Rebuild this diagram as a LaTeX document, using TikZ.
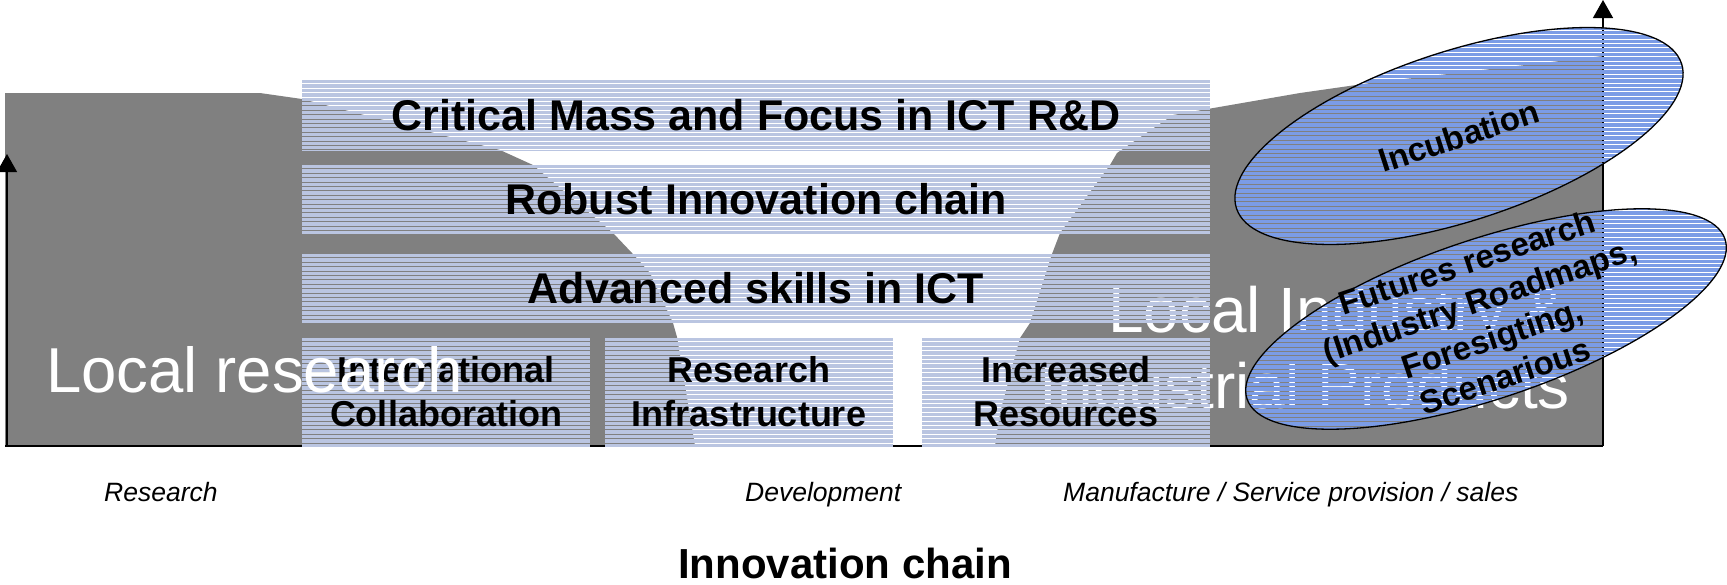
\documentclass[tikz,border=0pt]{standalone}
\usepackage{fontspec}
\setmainfont{Liberation Sans}
\usetikzlibrary{arrows.meta,shapes.geometric}
\definecolor{bggray}{HTML}{808080}
\definecolor{bandblue}{HTML}{BAC5E1}
\definecolor{ellblue}{HTML}{7B9CE6}
\newcommand\ellstripes[5]{%
\begin{scope}
\clip[rotate around={#5:(#1,#2)}] (#1,#2) ellipse [x radius=#3, y radius=#4];
\foreach \k in {0,...,105}{\fill[ellblue] (1150,{\k*4.4}) rectangle (1727,{\k*4.4+3.3});}
\end{scope}}
\tikzset{
  hatchbox/.style={inner sep=0pt, outer sep=0pt, path picture={
    \foreach \k in {0,...,30}{
      \pgfmathsetmacro\ya{-\k*4.4}
      \pgfmathsetmacro\yb{-\k*4.4-3.3}
      \fill[bandblue] ([yshift=\ya pt]path picture bounding box.north west) rectangle ([yshift=\yb pt]path picture bounding box.north east);
    }}},
  bandtext/.style={font=\fontsize{43}{50}\selectfont\bfseries},
  boxtext/.style={font=\fontsize{36}{44}\selectfont\bfseries, align=center},
  bigwhite/.style={text=white, inner sep=0pt},
  axisarrow/.style={line width=1.3pt, -{Triangle[length=18pt,width=20pt]}},
  axisline/.style={line width=1.3pt},
  ellout/.style={draw=black, line width=1.3pt, ellipse, inner sep=0pt},
  elltext/.style={font=\fontsize{33}{40}\selectfont\bfseries, align=center, inner sep=0pt},
  steplabel/.style={anchor=base west, inner sep=0pt, font=\fontsize{26.5}{32}\selectfont\itshape}
}
\begin{document}
\begin{tikzpicture}[x=1pt,y=-1pt]
\useasboundingbox (0,0) rectangle (1727,584);
% gray background with white funnel
\fill[bggray] (5,93) -- (260,93) -- (302,99) -- (500,150) -- (533,165) -- (613,233) -- (632,253)
  -- (650,273) -- (673,323) -- (677,337) -- (695,446) -- (995,446) -- (1000,413) -- (1020,338)
  -- (1030,323) -- (1052,254) -- (1060,233) -- (1110,165) -- (1117,153) -- (1173,115)
  -- (1300,93) -- (1370,83) -- (1603,56) -- (1603,446) -- (5,446) -- cycle;
% axes
\coordinate (ax0) at (5,446);
\coordinate (ax1) at (1603,446);
\coordinate (la0) at (7,446);
\coordinate (la1) at (7,154);
\coordinate (ra0) at (1603,446);
\coordinate (ra1) at (1603,0);
\draw[axisline] (ax0) -- (ax1);
\draw[axisarrow] (la0) -- (la1);
\draw[axisarrow] (ra0) -- (ra1);
% white text behind bands
\node[bigwhite, anchor=base west, font=\fontsize{64}{76}\selectfont] (li1) at (1108,332) {Local Industry \&};
\node[bigwhite, anchor=base, font=\fontsize{64}{76}\selectfont] (li2) at (1305,408) {Industrial Products};
% bands
\node[hatchbox, minimum width=908pt, minimum height=70pt] (b1) at (756,115) {};
\node[bandtext] (b1t) at (b1.center) {Critical Mass and Focus in ICT R\&D};
\node[hatchbox, minimum width=908pt, minimum height=68pt] (b2) at (756,199) {};
\node[bandtext] (b2t) at (b2.center) {Robust Innovation chain};
\node[hatchbox, minimum width=908pt, minimum height=69pt] (b3) at (756,288.5) {};
\node[bandtext] (b3t) at (b3.center) {Advanced skills in ICT};
% boxes
\node[hatchbox, minimum width=288pt, minimum height=108pt] (bA) at (446,392) {};
\node[boxtext] (bAt) at (bA.center) {International\\Collaboration};
\node[hatchbox, minimum width=288pt, minimum height=108pt] (bB) at (749,392) {};
\node[boxtext] (bBt) at (bB.center) {Research\\Infrastructure};
\node[hatchbox, minimum width=288pt, minimum height=108pt] (bC) at (1066,392) {};
\node[boxtext] (bCt) at (bC.center) {Increased\\Resources};
% white text on top
\node[bigwhite, anchor=base west, font=\fontsize{63.5}{76}\selectfont] (lr) at (46,392) {Local research};
% ellipses
\ellstripes{1459}{136}{234}{85}{18}
\node[ellout, minimum width=468pt, minimum height=170pt, rotate=18] (inc) at (1459,136) {};
\node[elltext, rotate=18] (inct) at (inc.center) {Incubation};
\ellstripes{1486}{319}{252}{80}{18.5}
\node[ellout, minimum width=504pt, minimum height=160pt, rotate=18.5] (fut) at (1486,319) {};
\node[elltext, rotate=18.5] (futt) at (fut.center) {Futures research\\(Industry Roadmaps,\\Foresigting,\\Scenarious};
% bottom labels
\node[steplabel] (s1) at (104,501) {Research};
\node[steplabel] (s2) at (745,501) {Development};
\node[steplabel] (s3) at (1063,501) {Manufacture / Service provision / sales};
\node[anchor=base, inner sep=0pt, font=\fontsize{42}{50}\selectfont\bfseries] (ttl) at (845,578) {Innovation chain};
\end{tikzpicture}
\end{document}
